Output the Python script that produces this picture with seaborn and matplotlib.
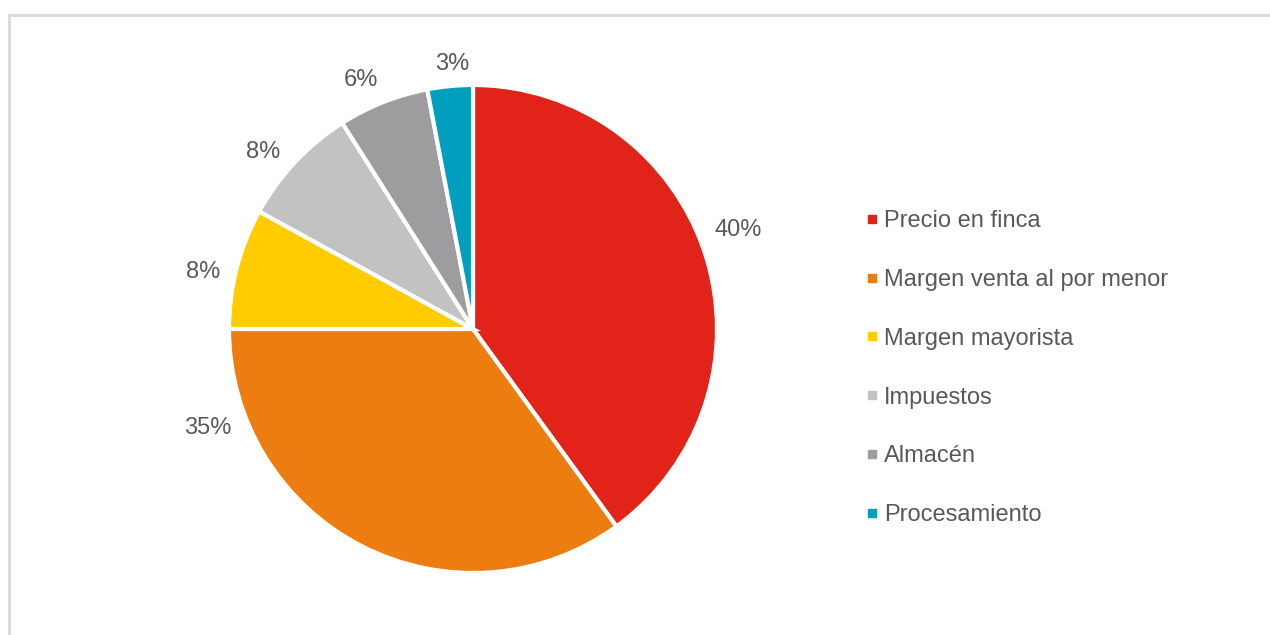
import matplotlib
matplotlib.use("Agg")
import matplotlib.pyplot as plt
from matplotlib.lines import Line2D
import seaborn as sns

categories = ["Precio en finca", "Margen venta al por menor", "Margen mayorista",
              "Impuestos", "Almacén", "Procesamiento"]
values = [40, 35, 8, 8, 6, 3]
colors = ["#E2231A", "#EE7D11", "#FFCC00", "#C3C2C3", "#9D9C9E", "#009FBD"]
# label positions (in pie-radius units), as placed in the reference
label_pos = [(1.086, 0.406), (-1.086, -0.406), (-1.107, 0.234),
             (-0.861, 0.725), (-0.459, 1.020), (-0.086, 1.086)]

sns.set_theme(style="white")
plt.rcParams["font.family"] = ["Liberation Sans", "DejaVu Sans"]

W, H = 1270, 635
fig = plt.figure(figsize=(W / 100, H / 100), dpi=100)
fig.patch.set_facecolor("white")

cx, cy, r = 473, 329, 244
ax = fig.add_axes([(cx - r) / W, (H - cy - r) / H, 2 * r / W, 2 * r / H])
wedges, texts, autotexts = ax.pie(
    values, colors=colors, startangle=90, counterclock=False,
    autopct=lambda p: f"{p:.0f}%", pctdistance=1.14, radius=1,
    wedgeprops=dict(edgecolor="white", linewidth=3),
    textprops=dict(color="#595959", fontsize=17))
for t, (x, y) in zip(autotexts, label_pos):
    t.set_position((x, y))
    t.set_va("center")
    t.set_ha("center")
ax.set_xlim(-1, 1)
ax.set_ylim(-1, 1)
ax.set_aspect("equal")
ax.axis("off")

handles = [Line2D([0], [0], marker="s", linestyle="none", markersize=6,
                  markerfacecolor=c, markeredgecolor=c) for c in colors]
leg = fig.legend(handles, categories, loc="upper left",
                 bbox_to_anchor=(866.5 / W, 1 - 210 / H), frameon=False,
                 fontsize=17, labelcolor="#595959", labelspacing=1.56,
                 handlelength=0.45, handletextpad=0.3, borderpad=0, borderaxespad=0)

border = "#D9D9D9"
fig.add_artist(Line2D([9 / W, 9 / W], [0, 1 - 15 / H], color=border, lw=2,
                      transform=fig.transFigure))
fig.add_artist(Line2D([9 / W, 1], [1 - 15 / H, 1 - 15 / H], color=border, lw=2,
                      transform=fig.transFigure))

fig.savefig("out.png", dpi=100, facecolor="white")
